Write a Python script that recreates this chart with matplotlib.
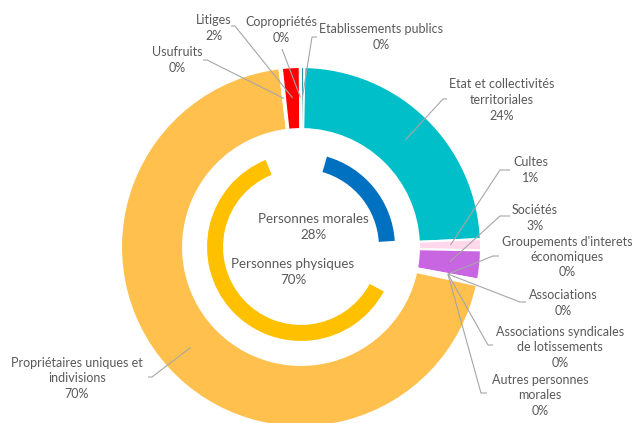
import numpy as np
import matplotlib
matplotlib.use('Agg')
import matplotlib.pyplot as plt
from matplotlib.patches import Wedge

# outer ring, clockwise from 12 o'clock
categories = ["Etablissements publics", "Etat et collectivités\nterritoriales", "Cultes",
              "Sociétés", "Groupements d'interets\néconomiques", "Associations",
              "Associations syndicales\nde lotissements", "Autres personnes\nmorales",
              "Propriétaires uniques et\nindivisions", "Usufruits", "Litiges", "Copropriétés"]
values = [0.3, 24.0, 1.0, 2.6, 0.1, 0.2, 0.1, 0.1, 69.7, 0.2, 1.6, 0.1]

# inner ring groups (index ranges of the outer list)
groups = ["Personnes morales", "Personnes physiques"]
group_members = [range(0, 8), range(8, 10)]

colors = ['#1A8A9A', '#00BFC8', '#FFD8EC', '#C865E0', '#9E9E9E', '#9E9E9E', '#9E9E9E',
          '#9E9E9E', '#FFC04D', '#FFC04D', '#FF0000', '#9E9E9E']
group_colors = ['#0070C0', '#FFC000']

TXT = '#595959'
LINE = '#A6A6A6'
plt.rcParams['font.family'] = ['Lato', 'DejaVu Sans']

W, H = 632, 423
CX, CY, R = 301, 247, 180


def px(x, y):
    return ((x - CX) / R, (CY - y) / R)


# label centres and leader elbows/ends in pixel space
label_pos = [(381, 37), (502, 100), (531, 170), (535, 218), (567, 257), (563, 303),
             (560, 347), (540, 395), (77, 378), (177, 60), (214, 28), (281, 30)]
leader_pts = [[(312, 37), (317, 37)], [(443, 99), (447, 99)], [(500, 170), (510, 170)],
              [(500, 216), (510, 216)], [(493, 256), (499, 256)], [(520, 302), (526, 302)],
              [(488, 345), (493, 345)], [(481, 393), (487, 393)], [(152, 377), (148, 377)],
              [(207, 60), (203, 60)], [(235, 26), (231, 26)], [(282, 49)]]
group_label_pos = [(313, 227), (293, 272)]

fig = plt.figure(figsize=(W / 100, H / 100), dpi=100)
ax = fig.add_axes([0, 0, 1, 1])

wedges, _ = ax.pie(values, colors=colors, startangle=90, counterclock=False, radius=1.0,
                   wedgeprops=dict(width=0.345, edgecolor='white', linewidth=1.5))

ax.set_xlim(-CX / R, (W - CX) / R)
ax.set_ylim(-(H - CY) / R, CY / R)
ax.set_aspect('equal', adjustable='datalim')
ax.axis('off')

total = sum(values)
cum = np.concatenate([[0], np.cumsum(values)]) / total * 360
for i, cat in enumerate(categories):
    mid = 90 - (cum[i] + cum[i + 1]) / 2
    if values[i] < 0.5 and 4 <= i <= 7:
        mid = 90 - cum[4]
    sx, sy = 0.83 * np.cos(np.radians(mid)), 0.83 * np.sin(np.radians(mid))
    pts = [(sx, sy)] + [px(*p) for p in leader_pts[i]]
    xs, ys = zip(*pts)
    ax.plot(xs, ys, color=LINE, lw=0.8, solid_capstyle='butt', zorder=3)
    lx, ly = px(*label_pos[i])
    ax.text(lx, ly, f"{cat}\n{round(values[i] / total * 100)}%", ha='center', va='center',
            multialignment='center', fontsize=9.0, color=TXT, linespacing=1.35)

# inner ring
for g, members in enumerate(group_members):
    gv = sum(values[k] for k in members)
    a0 = cum[members[0]]
    a1 = cum[members[-1] + 1]
    trim = 16
    ax.add_patch(Wedge((0, 0), 0.522, 90 - a1 + trim, 90 - a0 - trim, width=0.089,
                       facecolor=group_colors[g], edgecolor='none'))
    lx, ly = px(*group_label_pos[g])
    ax.text(lx, ly, f"{groups[g]}\n{round(gv / total * 100)}%", ha='center', va='center',
            multialignment='center', fontsize=9.6, color=TXT, linespacing=1.35)

fig.savefig('out.png', dpi=100)
